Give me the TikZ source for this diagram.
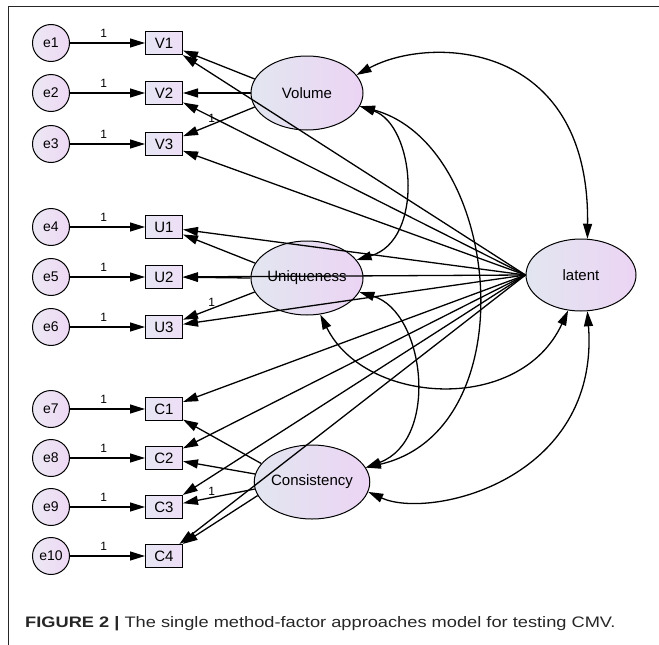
\documentclass[tikz,border=0pt]{standalone}
\usepackage{fontspec}
\setmainfont{Liberation Sans}
\newfontfamily\captionfont[FakeStretch=1.2]{Liberation Sans}
\usepackage{tikz}
\usetikzlibrary{shapes,arrows.meta}
\definecolor{resleft}{RGB}{236,232,244}
\definecolor{resright}{RGB}{238,216,244}
\definecolor{obsleft}{RGB}{230,230,244}
\definecolor{obsright}{RGB}{238,222,246}
\definecolor{latleft}{RGB}{226,230,240}
\definecolor{latright}{RGB}{236,212,244}

\begin{document}
\begin{tikzpicture}[x=1pt, y=-1pt,
      residual/.style = {
        circle, draw=black, line width=1pt, minimum size=37pt, inner sep=0pt,
        left color=resleft, right color=resright, font=\fontsize{14}{16}\selectfont },
      indicator/.style = {
        rectangle, draw=black, line width=1pt, minimum width=37pt,
        minimum height=23pt, inner sep=0pt, left color=obsleft,
        right color=obsright, font=\fontsize{15}{17}\selectfont },
      factor/.style = {
        ellipse, draw=black, line width=1pt, minimum width=112pt,
        minimum height=74pt, inner sep=0pt, left color=latleft,
        right color=latright, font=\fontsize{15}{17}\selectfont },
      line/.style = { draw, line width=1.3pt, -{Triangle[length=15pt,width=9pt]} },
      line-cov/.style = { draw, line width=1.3pt,
        {Triangle[length=15pt,width=9pt]}-{Triangle[length=15pt,width=9pt]} },
      one/.style = { font=\fontsize{12}{13}\selectfont, inner sep=1pt }]
    \useasboundingbox (0,0) rectangle (659,645);
    \draw[line width=0.9pt, black!85] (659,6) -- (8,6) -- (8,645);
    % error terms and indicators
    \node [residual] (e1) at (51,43) {e1};
    \node [residual] (e2) at (51,93) {e2};
    \node [residual] (e3) at (51,144) {e3};
    \node [residual] (e4) at (51,227) {e4};
    \node [residual] (e5) at (51,277) {e5};
    \node [residual] (e6) at (51,327) {e6};
    \node [residual] (e7) at (51,409) {e7};
    \node [residual] (e8) at (51,458) {e8};
    \node [residual] (e9) at (51,507) {e9};
    \node [residual] (e10) at (51,556) {e10};
    \node [indicator] (v1) at (164,43) {V1};
    \node [indicator] (v2) at (164,93) {V2};
    \node [indicator] (v3) at (164,144) {V3};
    \node [indicator] (u1) at (164,227) {U1};
    \node [indicator] (u2) at (164,277) {U2};
    \node [indicator] (u3) at (164,327) {U3};
    \node [indicator] (c1) at (164,409) {C1};
    \node [indicator] (c2) at (164,458) {C2};
    \node [indicator] (c3) at (164,507) {C3};
    \node [indicator] (c4) at (164,556) {C4};
    % factors
    \node [factor] (volume) at (307,93) {Volume};
    \node [factor] (uniqueness) at (307,278) {Uniqueness};
    \node [factor] (consistency) at (312,482) {Consistency};
    \node [factor, minimum width=110pt, minimum height=72pt] (latent) at (581,275) {latent};
    % residual paths
    \draw[line] (e1) -- node[one, pos=0.45, above=4pt] {1} (v1);
    \draw[line] (e2) -- node[one, pos=0.45, above=4pt] {1} (v2);
    \draw[line] (e3) -- node[one, pos=0.45, above=4pt] {1} (v3);
    \draw[line] (e4) -- node[one, pos=0.45, above=4pt] {1} (u1);
    \draw[line] (e5) -- node[one, pos=0.45, above=4pt] {1} (u2);
    \draw[line] (e6) -- node[one, pos=0.45, above=4pt] {1} (u3);
    \draw[line] (e7) -- node[one, pos=0.45, above=4pt] {1} (c1);
    \draw[line] (e8) -- node[one, pos=0.45, above=4pt] {1} (c2);
    \draw[line] (e9) -- node[one, pos=0.45, above=4pt] {1} (c3);
    \draw[line] (e10) -- node[one, pos=0.45, above=4pt] {1} (c4);
    % trait loadings
    \draw[line] (volume.165) -- (v1);
    \draw[line] (volume.west) -- (v2);
    \draw[line] (volume.195) -- node[one, pos=0.6, above] {1} (v3);
    \draw[line] (uniqueness.164) -- (u1);
    \draw[line] (uniqueness.west) -- (u2);
    \draw[line] (uniqueness.195) -- node[one, pos=0.6, above] {1} (u3);
    \draw[line] (consistency.160) -- (c1);
    \draw[line] (consistency.172) -- (c2);
    \draw[line] (consistency.187) -- node[one, pos=0.6, above] {1} (c3);
    \draw[line] (consistency.194) -- (c4);
    % method factor loadings
    \draw[line] (latent.west) -- (v1);
    \draw[line] (latent.west) -- (v2);
    \draw[line] (latent.west) -- (v3);
    \draw[line] (latent.west) -- (u1);
    \draw[line] (latent.west) -- (u2);
    \draw[line] (latent.west) -- (u3);
    \draw[line] (latent.west) -- (c1);
    \draw[line] (latent.west) -- (c2);
    \draw[line] (latent.west) -- (c3);
    \draw[line] (latent.west) -- (c4);
    % covariances
    \draw[line-cov] (volume.20) .. controls (430,35) and (590,40) .. (latent.80);
    \draw[line-cov] (volume.-14) .. controls (415,125) and (425,240) .. (uniqueness.20);
    \draw[line-cov] (volume.-14) .. controls (502,145) and (528,430) .. (consistency.15);
    \draw[line-cov] (uniqueness.-15) .. controls (425,312) and (440,440) .. (consistency.15);
    \draw[line-cov] (uniqueness.-70) .. controls (365,405) and (520,415) .. (latent.-110);
    \draw[line-cov] (consistency.-10) .. controls (430,520) and (600,480) .. (latent.-80);
    % caption
    \node[anchor=base west, inner sep=0pt, text=black!85,
      font=\captionfont\fontsize{15.2}{18}\selectfont] (caption) at (25,627)
      {\textbf{FIGURE 2 |} The single method-factor approaches model for testing CMV.};
\end{tikzpicture}
\end{document}
